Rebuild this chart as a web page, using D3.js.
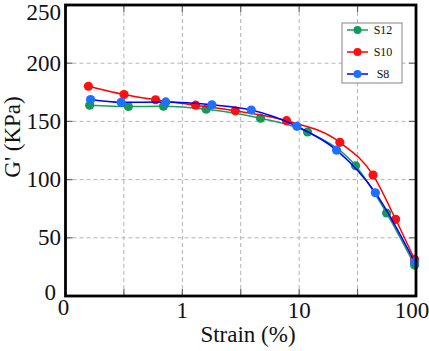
<!DOCTYPE html>
<html>
  <head>
    <meta charset="utf-8" />
    <title>G' vs strain</title>
    <style>
      body {
        background: #fff;
        padding: 0px;
        margin: 0px;
        overflow: hidden;
      }
      .grid {
        stroke: #b4b4b4;
        stroke-width: 1;
        stroke-dasharray: 4,3;
      }
      .tick-in {
        stroke: #666;
        stroke-width: 1.2;
      }
    </style>
  </head>

  <body>
    <script src="https://cdnjs.cloudflare.com/ajax/libs/d3/7.8.5/d3.min.js"></script>

    <script>

      // strain (%) and G' (KPa)
      var strainS12 = [0.161, 0.345, 0.690, 1.60, 4.67, 11.8, 30.4, 56.0, 97.3];
      var gS12      = [163.9, 162.8, 163.0, 160.5, 152.7, 140.9, 111.9, 71.3, 26.6];

      var strainS10 = [0.157, 0.317, 0.590, 1.30, 2.84, 7.80, 22.3, 42.9, 66.9, 97.3];
      var gS10      = [180.2, 173.1, 168.6, 163.9, 159.1, 150.6, 132.0, 103.9, 65.9, 31.4];

      var strainS8  = [0.164, 0.299, 0.721, 1.79, 3.89, 9.55, 20.9, 44.9, 97.3];
      var gS8       = [168.8, 166.4, 166.7, 164.3, 159.8, 145.8, 125.3, 88.7, 29.2];

      var xTickValues = [0.1, 1, 10, 100];
      var xTickLabels = ["0", "1", "10", "100"];
      var xGridValues = [0.316, 1, 3.16, 10, 31.6];
      var yTickValues = [0, 50, 100, 150, 200, 250];
      var yGridValues = [50, 100, 150, 200];

      var seriesNames = ["S12", "S10", "S8"];

      var width = 429, height = 351;
      var pLeft = 65.5, pRight = 416, pTop = 5, pBottom = 296;
      var serif = "'Liberation Serif', 'Times New Roman', Times, serif";

      var series = [
        { name: "S12", xs: strainS12, ys: gS12, line: "#17a05d", dot: "#149a58" },
        { name: "S10", xs: strainS10, ys: gS10, line: "#ff0000", dot: "#ff1010" },
        { name: "S8",  xs: strainS8,  ys: gS8,  line: "#0000ff", dot: "#1f70ff" }
      ];

      var svg = d3.select("body").append("svg")
        .attr("width", width)
        .attr("height", height)
        .style("font-family", serif);

      var x = d3.scaleLog().domain([0.1, 100]).range([pLeft, pRight]);
      var y = d3.scaleLinear().domain([0, 250]).range([pBottom, pTop]);

      // grid
      svg.selectAll(".vgrid")
        .data(xGridValues)
        .enter().append("line")
          .attr("class", "grid")
          .attr("x1", function(d) { return x(d); })
          .attr("x2", function(d) { return x(d); })
          .attr("y1", pTop)
          .attr("y2", pBottom);

      svg.selectAll(".hgrid")
        .data(yGridValues)
        .enter().append("line")
          .attr("class", "grid")
          .attr("x1", pLeft)
          .attr("x2", pRight)
          .attr("y1", function(d) { return y(d); })
          .attr("y2", function(d) { return y(d); });

      // inner ticks on all four sides
      xGridValues.forEach(function(d) {
        svg.append("line").attr("class", "tick-in")
          .attr("x1", x(d)).attr("x2", x(d)).attr("y1", pBottom).attr("y2", pBottom - 7);
        svg.append("line").attr("class", "tick-in")
          .attr("x1", x(d)).attr("x2", x(d)).attr("y1", pTop).attr("y2", pTop + 7);
      });
      yGridValues.forEach(function(d) {
        svg.append("line").attr("class", "tick-in")
          .attr("x1", pLeft).attr("x2", pLeft + 7).attr("y1", y(d)).attr("y2", y(d));
        svg.append("line").attr("class", "tick-in")
          .attr("x1", pRight).attr("x2", pRight - 7).attr("y1", y(d)).attr("y2", y(d));
      });

      // curves and markers
      var line = d3.line()
        .curve(d3.curveMonotoneX)
        .x(function(d) { return x(d[0]); })
        .y(function(d) { return y(d[1]); });

      series.forEach(function(s) {
        var pts = s.xs.map(function(v, i) { return [v, s.ys[i]]; });
        svg.append("path")
          .datum(pts)
          .attr("d", line)
          .attr("fill", "none")
          .attr("stroke", s.line)
          .attr("stroke-width", 1.5);
        svg.selectAll(".dot-" + s.name)
          .data(pts)
          .enter().append("circle")
            .attr("cx", function(d) { return x(d[0]); })
            .attr("cy", function(d) { return y(d[1]); })
            .attr("r", 4.6)
            .attr("fill", s.dot);
      });

      // frame
      svg.append("rect")
        .attr("x", pLeft)
        .attr("y", pTop)
        .attr("width", pRight - pLeft)
        .attr("height", pBottom - pTop)
        .attr("fill", "none")
        .attr("stroke", "#000")
        .attr("stroke-width", 2.8);

      // tick labels
      svg.selectAll(".xlab")
        .data(xTickValues)
        .enter().append("text")
          .attr("x", function(d, i) { return i == 0 ? x(d) - 2 : Math.min(x(d), 412); })
          .attr("y", function(d, i) { return i == 0 ? 315 : 318; })
          .attr("text-anchor", "middle")
          .style("font-size", "23px")
          .style("fill", "#111")
          .text(function(d, i) { return xTickLabels[i]; });

      svg.selectAll(".ylab")
        .data(yTickValues)
        .enter().append("text")
          .attr("x", function(d) { return d == 0 ? 56 : 61; })
          .attr("y", function(d) { return Math.min(Math.max(y(d), 12), 292); })
          .attr("dy", "0.33em")
          .attr("text-anchor", "end")
          .style("font-size", "23px")
          .style("fill", "#111")
          .text(function(d) { return d; });

      // axis titles
      svg.append("text")
        .attr("x", 248)
        .attr("y", 342)
        .attr("text-anchor", "middle")
        .style("font-size", "23px")
        .style("fill", "#111")
        .text("Strain (%)");

      svg.append("text")
        .attr("transform", "translate(20,137) rotate(-90)")
        .attr("text-anchor", "middle")
        .style("font-size", "23px")
        .style("fill", "#111")
        .text("G' (KPa)");

      // legend
      var legend = svg.append("g").attr("transform", "translate(342,23)");
      legend.append("rect")
        .attr("width", 60)
        .attr("height", 60)
        .attr("fill", "#fff")
        .attr("stroke", "#999")
        .attr("stroke-width", 1.2);

      series.forEach(function(s, i) {
        var ly = 7 + i * 22;
        legend.append("line")
          .attr("x1", 5).attr("x2", 26)
          .attr("y1", ly).attr("y2", ly)
          .attr("stroke", s.line)
          .attr("stroke-width", 1.5);
        legend.append("circle")
          .attr("cx", 15.5).attr("cy", ly).attr("r", 4)
          .attr("fill", s.dot);
        legend.append("text")
          .attr("x", 41)
          .attr("y", ly)
          .attr("dy", "0.35em")
          .attr("text-anchor", "middle")
          .style("font-size", "12px")
          .style("fill", "#111")
          .text(seriesNames[i]);
      });

    </script>

  </body>
</html>
